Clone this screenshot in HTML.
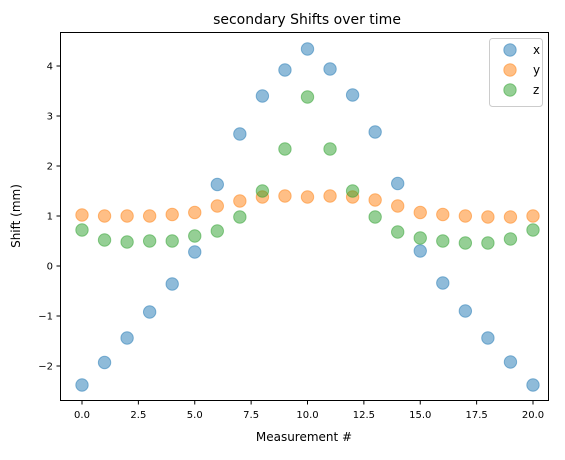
<!DOCTYPE html>
<html><head><meta charset="utf-8"><style>
body{margin:0;background:#fff;}
svg text{font-family:"DejaVu Sans","Liberation Sans",sans-serif;fill:#000;}
</style></head><body>
<svg id="chart" width="565" height="455" xmlns="http://www.w3.org/2000/svg">
<rect width="565" height="455" fill="#fff"/>
<text x="307" y="24" font-size="14" text-anchor="middle">secondary Shifts over time</text>
<g id="marks"></g>
<rect x="60.5" y="32.5" width="488" height="368" fill="none" stroke="#000" stroke-width="1"/>
<g id="axes"></g>
<text x="304" y="441" font-size="12" text-anchor="middle">Measurement #</text>
<text transform="translate(20,216) rotate(-90)" font-size="12" text-anchor="middle">Shift (mm)</text>
<g id="legend"></g>
</svg>
<script>
const categories=[0,1,2,3,4,5,6,7,8,9,10,11,12,13,14,15,16,17,18,19,20];
const xSeries=[-2.38,-1.93,-1.44,-0.92,-0.36,0.28,1.63,2.64,3.40,3.92,4.34,3.94,3.42,2.68,1.65,0.30,-0.34,-0.90,-1.44,-1.92,-2.38];
const ySeries=[1.02,1.00,1.00,1.00,1.03,1.07,1.20,1.30,1.38,1.40,1.38,1.40,1.38,1.32,1.20,1.07,1.03,1.00,0.98,0.98,1.00];
const zSeries=[0.72,0.52,0.48,0.50,0.50,0.60,0.70,0.98,1.50,2.34,3.38,2.34,1.50,0.98,0.68,0.56,0.50,0.46,0.46,0.54,0.72];
const xTickLabels=["0.0","2.5","5.0","7.5","10.0","12.5","15.0","17.5","20.0"];
const yTicks=[-2,-1,0,1,2,3,4];
const yTickLabels=["\u22122","\u22121","0","1","2","3","4"];
const seriesNames=["x","y","z"];
const NS="http://www.w3.org/2000/svg";
function sx(v){return 82+v*(533-82)/20;}
function sy(v){return 266-v*50;}
function mk(t,a,p){const e=document.createElementNS(NS,t);for(const k in a)e.setAttribute(k,a[k]);p.appendChild(e);return e;}
const colors=["#1f77b4","#ff7f0e","#2ca02c"];
const marks=document.getElementById('marks');
[xSeries,ySeries,zSeries].forEach((s,si)=>{
  s.forEach((v,i)=>{
    const c=mk('circle',{cx:sx(categories[i]),cy:sy(v),r:6.2,fill:colors[si],'fill-opacity':0.5,stroke:colors[si],'stroke-opacity':0.5},marks);
    
    
  });
});
const axes=document.getElementById('axes');
xTickLabels.forEach((lab,i)=>{
  const v=i*2.5;const x=sx(v);
  const l=mk('line',{x1:x,x2:x,y1:400.5,y2:404.5,stroke:'#000'},axes);
  
  
  const t=mk('text',{x:x,y:418,'font-size':10,'text-anchor':'middle'},axes);t.textContent=lab;
  
  
});
yTicks.forEach((v,i)=>{
  const y=sy(v);
  const l=mk('line',{x1:56.5,x2:60.5,y1:y,y2:y,stroke:'#000'},axes);
  
  
  const t=mk('text',{x:53,y:y+3.5,'font-size':10,'text-anchor':'end'},axes);t.textContent=yTickLabels[i];
  
  
});
const lg=document.getElementById('legend');
const box=mk('rect',{x:489.5,y:38.5,width:53,height:68,rx:3,fill:'#fff','fill-opacity':0.8,stroke:'#ccc'},lg);


seriesNames.forEach((n,i)=>{
  const y=50+i*20;
  const c=mk('circle',{cx:510,cy:y,r:6.2,fill:colors[i],'fill-opacity':0.5,stroke:colors[i],'stroke-opacity':0.5},lg);
  
  
  const t=mk('text',{x:533,y:y+4,'font-size':12},lg);t.textContent=n;
  
  
});
</script>
</body></html>
